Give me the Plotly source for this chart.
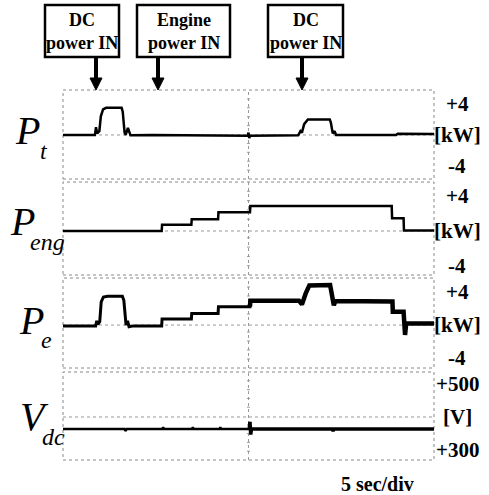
import plotly.graph_objects as go
import numpy as np

# ---------------- data ----------------
t_pt = [0, 4.3, 4.45, 4.6, 4.9, 5.1, 5.4, 5.8, 7.9, 8.05, 8.3, 8.45, 8.75, 9.1, 12, 20, 24.9,
        25.0, 25.1, 25.2, 31.7, 32.0, 32.2, 32.5, 33.0, 35.95, 36.1, 36.35, 36.6, 36.8, 44.9, 45.1, 50]
p_t = [0, 0, 1.0, 0.2, 0.5, 2.4, 3.3, 3.5, 3.5, 3.0, 0.3, 0.0, 0.9, -0.05, 0, -0.05, -0.1,
       0.3, -0.4, -0.1, -0.05, 0.5, 0.3, 1.4, 2.0, 2.0, 1.6, 0.2, 0.5, 0.0, 0.0, 0.15, 0.12]

t_eng = [0, 13.3, 13.35, 17.3, 17.35, 20.9, 20.95, 25.2, 25.25, 44.3, 44.35, 45.9, 45.95, 50]
p_eng = [0, 0, 0.7, 0.7, 1.34, 1.34, 2.14, 2.14, 2.86, 2.86, 1.45, 1.45, 0.05, 0.05]

t_pe = [0, 4.4, 4.55, 4.7, 4.95, 5.15, 5.45, 6.0, 8.0, 8.2, 8.5, 8.7, 8.9, 9.5, 13.3, 13.35,
        17.3, 17.35, 20.9, 20.95, 25.2, 25.25, 31.8, 32.2, 32.7, 33.2, 36.0, 36.3, 36.5, 36.7,
        44.4, 44.45, 45.9, 46.0, 46.1, 46.25, 50]
p_e = [-0.1, -0.1, 0.5, 0.1, 0.4, 2.8, 3.4, 3.5, 3.5, 3.0, 0.0, 0.5, -0.2, -0.1, -0.1, 0.73,
       0.73, 1.41, 1.41, 2.22, 2.22, 2.95, 2.95, 2.5, 3.8, 4.8, 4.85, 3.6, 2.4, 2.9,
       2.85, 1.6, 1.6, 0.2, -1.2, 0.2, 0.2]

t_vdc = [0, 8.3, 8.4, 8.6, 13.4, 13.5, 13.6, 17.4, 17.5, 17.6, 21.1, 21.2, 21.3, 25.1, 25.2,
         25.3, 25.4, 36.3, 36.4, 36.5, 50]
v_dc = [364, 364, 358, 364, 364, 369, 364, 364, 369, 364, 364, 369, 364, 364, 385,
        347, 364, 364, 357, 364, 364]

right_labels = [["+4", "[kW]", "-4"], ["+4", "[kW]", "-4"], ["+4", "[kW]", "-4"], ["+500", "[V]", "+300"]]
right_vals = [[4, 0, -4], [4, 0, -4], [4, 0, -4], [500, 400, 300]]
centers = [0, 0, 0, 400]
box_texts = ["DC<br>power IN", "Engine<br>power IN", "DC<br>power IN"]

# ---------------- layout helpers ----------------
W, H = 489, 495
def px(x): return x / W
def py(y): return 1 - y / H

FONT = "Liberation Serif"
panels = [(90, 179), (182, 275), (278, 368), (372, 460)]
yranges = [[-5.68, 5.8], [-5.03, 5.6], [-5.2, 5.7], [270, 536]]
X0, X1 = 63, 434

fig = go.Figure()

def add(t, v, i, width):
    fig.add_trace(go.Scatter(x=t, y=v, mode="lines", xaxis="x" if i == 1 else f"x{i}",
                             yaxis="y" if i == 1 else f"y{i}",
                             line=dict(color="black", width=width), showlegend=False,
                             hoverinfo="skip"))

add(t_pt, p_t, 1, 2.5)
add(t_eng, p_eng, 2, 2.5)
tp = np.array(t_pe); vp = np.array(p_e)
m1 = tp <= 25.25; m2 = tp >= 25.2
add(tp[m1], vp[m1], 3, 3)
add(tp[m2], vp[m2], 3, 4.5)
tv = np.array(t_vdc); vv = np.array(v_dc)
add(tv[tv <= 25.2], vv[tv <= 25.2], 4, 2.5)
add(tv[tv >= 25.1], vv[tv >= 25.1], 4, 3.5)

layout = dict(width=W, height=H, margin=dict(l=0, r=0, t=0, b=0),
              paper_bgcolor="white", plot_bgcolor="white", showlegend=False)
shapes = []
annotations = []
for i, ((top, bot), yr) in enumerate(zip(panels, yranges), start=1):
    sx = "" if i == 1 else str(i)
    layout[f"xaxis{sx}"] = dict(domain=[px(X0), px(X1)], range=[0, 50], visible=False,
                                anchor=f"y{sx}", fixedrange=True)
    layout[f"yaxis{sx}"] = dict(domain=[py(bot), py(top)], range=yr, visible=False,
                                anchor=f"x{sx}", fixedrange=True)
    shapes.append(dict(type="rect", xref="paper", yref="paper", x0=px(X0), x1=px(X1),
                       y0=py(bot), y1=py(top), line=dict(color="#888", width=1, dash="dot"),
                       layer="below"))
    shapes.append(dict(type="line", xref=f"x{sx}", yref=f"y{sx} domain", x0=25, x1=25, y0=0, y1=1,
                       line=dict(color="#999", width=1, dash="dot"), layer="below"))
    shapes.append(dict(type="line", xref=f"x{sx} domain", yref=f"y{sx}", x0=0, x1=1,
                       y0=centers[i - 1], y1=centers[i - 1],
                       line=dict(color="#999", width=1, dash="dot"), layer="below"))
    # small graticule ticks along the centre vertical line
    for k in range(1, 10):
        if k == 5:
            continue
        shapes.append(dict(type="line", xref=f"x{sx}", yref=f"y{sx} domain", x0=24.8, x1=25.2,
                           y0=k / 10, y1=k / 10, line=dict(color="#999", width=1), layer="below"))
    for lab, val in zip(right_labels[i - 1], right_vals[i - 1]):
        annotations.append(dict(text=f"<b>{lab}</b>", xref="paper", yref=f"y{sx}",
                                x=px(457), y=val, xanchor="center", yanchor="middle",
                                showarrow=False, font=dict(family=FONT, size=21, color="black")))

# left symbol labels
main = [("P", 27.5, 130), ("P", 22.5, 221), ("P", 31, 320), ("V", 34.5, 416.5)]
subs = [("t", 44, 151), ("eng", 47, 242), ("e", 46, 340), ("dc", 53, 437)]
for (m, mx, my), (s, sx_, sy) in zip(main, subs):
    annotations.append(dict(text=f"<i>{m}</i>", xref="paper", yref="paper", x=px(mx), y=py(my),
                            xanchor="center", yanchor="middle", showarrow=False,
                            font=dict(family=FONT, size=40, color="black")))
    annotations.append(dict(text=f"<i>{s}</i>", xref="paper", yref="paper", x=px(sx_), y=py(sy),
                            xanchor="center", yanchor="middle", showarrow=False,
                            font=dict(family=FONT, size=24, color="black")))

# boxes with arrows
boxes = [(45, 119, 96), (137, 230, 158), (268, 343, 302)]
for (bx0, bx1, ax), txt in zip(boxes, box_texts):
    shapes.append(dict(type="rect", xref="paper", yref="paper", x0=px(bx0), x1=px(bx1),
                       y0=py(57), y1=py(5), line=dict(color="black", width=2.5),
                       fillcolor="white"))
    annotations.append(dict(text="<b>" + txt.replace("<br>", "</b><br><b>") + "</b>",
                            xref="paper", yref="paper", x=px((bx0 + bx1) / 2), y=py(32),
                            xanchor="center", yanchor="middle", showarrow=False,
                            font=dict(family=FONT, size=18, color="black")))
    shapes.append(dict(type="line", xref="paper", yref="paper", x0=px(ax), x1=px(ax),
                       y0=py(57), y1=py(80), line=dict(color="black", width=4)))
    shapes.append(dict(type="path", xref="paper", yref="paper",
                       path=f"M {px(ax-6)},{py(78)} L {px(ax+6)},{py(78)} L {px(ax)},{py(90)} Z",
                       fillcolor="black", line=dict(color="black", width=1)))

annotations.append(dict(text="<b>5 sec/div</b>", xref="paper", yref="paper", x=px(377), y=py(484),
                        xanchor="center", yanchor="middle", showarrow=False,
                        font=dict(family=FONT, size=20, color="black")))

layout["shapes"] = shapes
layout["annotations"] = annotations
fig.update_layout(**layout)
# remove the default 8px page margin so the figure fills the window exactly
fig.write_html("out.html", config={"displayModeBar": False},
               post_script="document.body.style.margin='0px';")
